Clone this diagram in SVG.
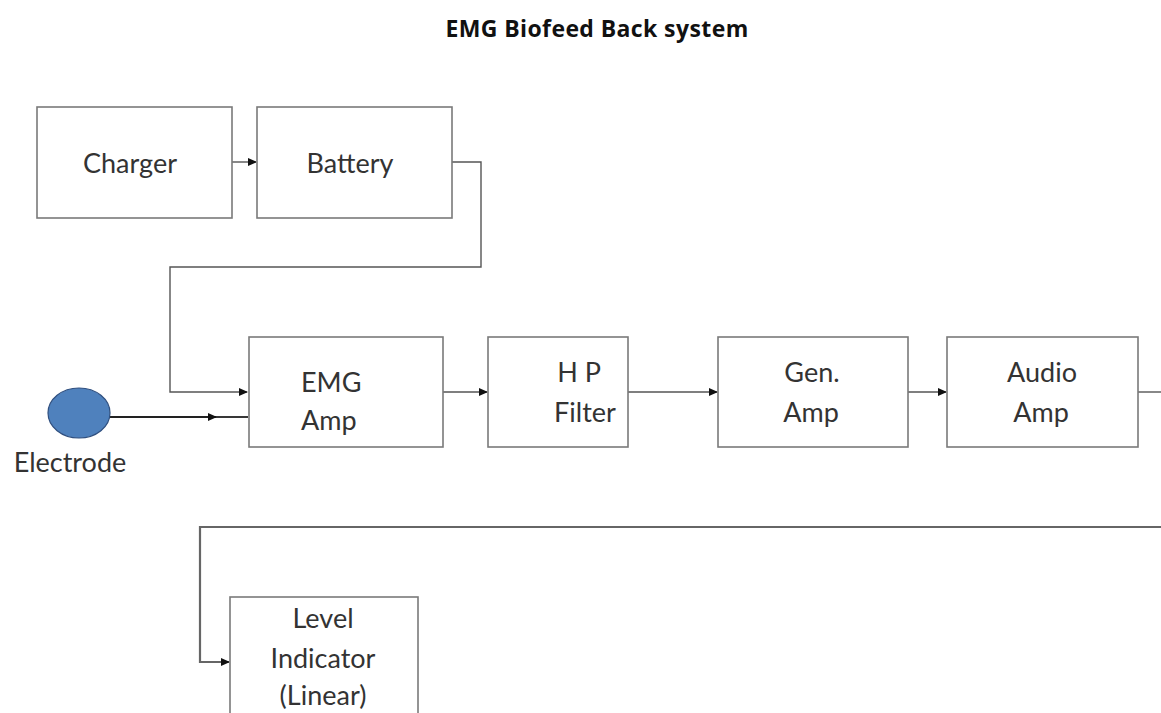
<svg xmlns="http://www.w3.org/2000/svg" width="1161" height="713" viewBox="0 0 1161 713">
<style>
.box{fill:#fff;stroke:#7a7a7a;stroke-width:1.6}
.lbl{font-family:Lato,"Open Sans","Liberation Sans",sans-serif;font-size:27px;fill:#333;text-anchor:middle}
.title{font-family:"Open Sans","Liberation Sans",sans-serif;font-size:23px;font-weight:bold;fill:#111;text-anchor:middle;letter-spacing:0.4px}
.wire{fill:none;stroke:#555;stroke-width:1.4}
</style>
<defs>
<marker id="ah" markerWidth="9" markerHeight="8" refX="8" refY="4" orient="auto" markerUnits="userSpaceOnUse">
<path d="M0,0 L9,4 L0,8 Z" fill="#111"/>
</marker>
</defs>
<rect width="1161" height="713" fill="#fff"/>
<text class="title" x="597" y="37">EMG Biofeed Back system</text>
<g id="connectors">
<path class="wire" d="M232,162 L256,162" marker-end="url(#ah)"/>
<path class="wire" d="M452,162 L481,162 L481,267 L170,267 L170,392 L247,392" marker-end="url(#ah)"/>
<path class="wire" d="M110,417 L216,417" marker-end="url(#ah)" style="stroke:#222;stroke-width:1.8"/>
<path class="wire" d="M216,417 L248,417" style="stroke:#222;stroke-width:1.8"/>
<path class="wire" d="M443,392 L487,392" marker-end="url(#ah)"/>
<path class="wire" d="M628,392 L717,392" marker-end="url(#ah)"/>
<path class="wire" d="M908,392 L946,392" marker-end="url(#ah)"/>
<path class="wire" d="M1138,392 L1161,392"/>
<path class="wire" d="M1161,527 L200,527 L200,662 L229,662" marker-end="url(#ah)" style="stroke:#666;stroke-width:2.2"/>
</g>
<g id="charger">
<rect class="box" x="37" y="107" width="195" height="111"/>
<text class="lbl" x="130" y="173">Charger</text>
</g>
<g id="battery">
<rect class="box" x="257" y="107" width="195" height="111"/>
<text class="lbl" x="350" y="173">Battery</text>
</g>
<g id="electrode">
<ellipse cx="79" cy="413" rx="31" ry="25" fill="#4f81bd" stroke="#2f4f7f" stroke-width="1.2"/>
<text class="lbl" x="70" y="472">Electrode</text>
</g>
<g id="emg-amp">
<rect class="box" x="249" y="337" width="194" height="110"/>
<text class="lbl" x="301" y="392" style="text-anchor:start">EMG</text>
<text class="lbl" x="301" y="430" style="text-anchor:start">Amp</text>
</g>
<g id="hp-filter">
<rect class="box" x="488" y="337" width="140" height="110"/>
<text class="lbl" x="579" y="382">H P</text>
<text class="lbl" x="585" y="422">Filter</text>
</g>
<g id="gen-amp">
<rect class="box" x="718" y="337" width="190" height="110"/>
<text class="lbl" x="812" y="382">Gen.</text>
<text class="lbl" x="811" y="422">Amp</text>
</g>
<g id="audio-amp">
<rect class="box" x="947" y="337" width="191" height="110"/>
<text class="lbl" x="1042" y="382">Audio</text>
<text class="lbl" x="1041" y="422">Amp</text>
</g>
<g id="level-indicator">
<rect class="box" x="230" y="597" width="188" height="130"/>
<text class="lbl" x="323" y="628">Level</text>
<text class="lbl" x="323" y="668">Indicator</text>
<text class="lbl" x="323" y="705">(Linear)</text>
</g>
</svg>
